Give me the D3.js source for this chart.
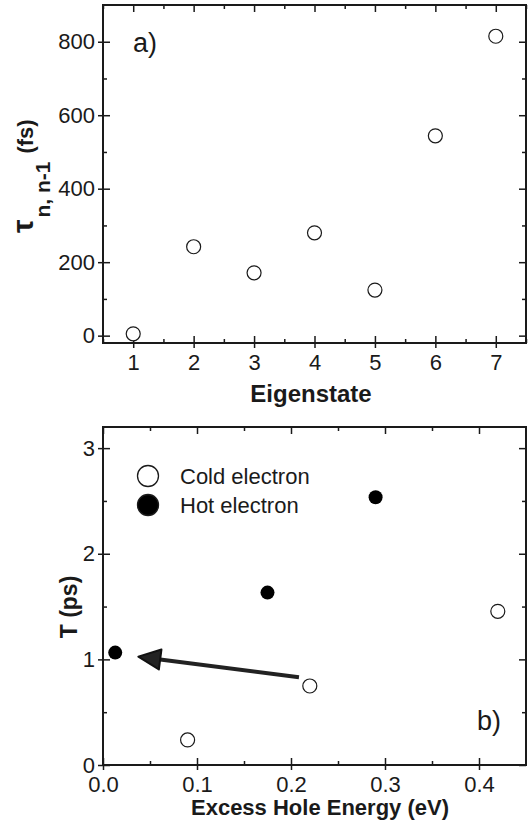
<!DOCTYPE html>
<html>
<head>
<meta charset="utf-8">
<script src="https://cdn.jsdelivr.net/npm/d3@7"></script>
<style>
  body { margin: 0; background: #fff; }
  text { font-family: "Liberation Sans", Arial, sans-serif; fill: #1a1a1a; }
</style>
</head>
<body>
<div id="chart"></div>
<script>
// - data, panel a)
const eigenstates = [1, 2, 3, 4, 5, 6, 7]
const tauValues = [5, 242, 171, 280, 124, 544, 815]
const xTicksA = [1, 2, 3, 4, 5, 6, 7]
const xMinorA = [0.5, 1.5, 2.5, 3.5, 4.5, 5.5, 6.5, 7.5]
const yTicksA = [0, 200, 400, 600, 800]
const yMinorA = [100, 300, 500, 700]

// - data, panel b)
const coldEnergy = [0.09, 0.22, 0.42]
const coldT = [0.237, 0.748, 1.455]
const hotEnergy = [0.013, 0.175, 0.29]
const hotT = [1.064, 1.632, 2.535]
const arrowFrom = [0.2085, 0.83]
const arrowTo = [0.0376, 1.026]
const xTicksB = [0, 0.1, 0.2, 0.3, 0.4]
const xMinorB = [0.05, 0.15, 0.25, 0.35]
const yTicksB = [0, 1, 2, 3]
const yMinorB = [0.5, 1.5, 2.5]
const legendLabels = ['Cold electron', 'Hot electron']

const ink = '#1a1a1a'
const dms = { width: 528, height: 825 }

const svg = d3.select('#chart')
  .append('svg')
  .attr('width', dms.width)
  .attr('height', dms.height)

const left = 103
const right = 526

function drawFrame(x, y, xTicks, xMinor, yTicks, yMinor, xFormat, yFormat) {
  const [x0, x1] = x.range()
  const [y0, y1] = y.range() // y0 bottom, y1 top

  // inside ticks on all four sides
  const inner = svg.append('g')
  const addAxis = (gen, tr) => {
    const g = inner.append('g').attr('transform', tr).call(gen)
    g.select('.domain').remove()
    g.selectAll('text').remove()
    g.selectAll('line').attr('stroke', ink).attr('stroke-width', 1.5)
  }
  addAxis(d3.axisBottom(x).tickValues(xMinor).tickSize(-4), `translate(0,${y0})`)
  addAxis(d3.axisTop(x).tickValues(xMinor).tickSize(-4), `translate(0,${y1})`)
  addAxis(d3.axisLeft(y).tickValues(yMinor).tickSize(-4), `translate(${x0},0)`)
  addAxis(d3.axisRight(y).tickValues(yMinor).tickSize(-4), `translate(${x1},0)`)
  addAxis(d3.axisBottom(x).tickValues(xTicks).tickSize(-7), `translate(0,${y0})`)
  addAxis(d3.axisTop(x).tickValues(xTicks).tickSize(-7), `translate(0,${y1})`)
  addAxis(d3.axisLeft(y).tickValues(yTicks).tickSize(-7), `translate(${x0},0)`)
  addAxis(d3.axisRight(y).tickValues(yTicks).tickSize(-7), `translate(${x1},0)`)

  // outside major ticks with labels
  const xAxis = svg.append('g')
    .attr('transform', `translate(0,${y0})`)
    .call(d3.axisBottom(x).tickValues(xTicks).tickSize(5).tickPadding(6).tickFormat(xFormat))
  const yAxis = svg.append('g')
    .attr('transform', `translate(${x0},0)`)
    .call(d3.axisLeft(y).tickValues(yTicks).tickSize(5).tickPadding(3).tickFormat(yFormat))
  for (const a of [xAxis, yAxis]) {
    a.select('.domain').remove()
    a.selectAll('line').attr('stroke', ink).attr('stroke-width', 1.5)
    a.selectAll('text')
      .style('font-family', '"Liberation Sans", Arial, sans-serif')
      .style('font-size', '22px')
      .attr('fill', ink)
  }

  svg.append('rect')
    .attr('x', x0).attr('y', y1)
    .attr('width', x1 - x0).attr('height', y0 - y1)
    .attr('fill', 'none')
    .attr('stroke', ink)
    .attr('stroke-width', 2)
}

// ---------- panel a)
const xA = d3.scaleLinear().domain([0.5, 7.5]).range([left, right])
const yA = d3.scaleLinear().domain([-20, 900]).range([343, 5])

drawFrame(xA, yA, xTicksA, xMinorA, yTicksA, yMinorA, d3.format('d'), d3.format('d'))

svg.append('g')
  .selectAll('circle')
  .data(eigenstates)
  .join('circle')
  .attr('cx', (d) => xA(d))
  .attr('cy', (d, i) => yA(tauValues[i]))
  .attr('r', 7)
  .attr('fill', '#fff')
  .attr('stroke', ink)
  .attr('stroke-width', 1.2)

svg.append('text')
  .attr('x', 133).attr('y', 52)
  .style('font-size', '27px')
  .text('a)')

svg.append('text')
  .attr('x', 311).attr('y', 402)
  .attr('text-anchor', 'middle')
  .style('font-size', '24px')
  .style('font-weight', 'bold')
  .text('Eigenstate')

const tauLabel = svg.append('text')
  .attr('transform', 'translate(33,233) rotate(-90)')
  .style('font-weight', 'bold')
tauLabel.append('tspan').style('font-size', '30px').text('τ')
tauLabel.append('tspan').attr('dx', 2).attr('dy', 17).style('font-size', '21px').text('n, n-1')
tauLabel.append('tspan').attr('dx', 8).attr('dy', -17).style('font-size', '22px').text('(fs)')

// ---------- panel b)
const xB = d3.scaleLinear().domain([0, 0.45]).range([left, right])
const yB = d3.scaleLinear().domain([0, 3.2]).range([765, 427])

drawFrame(xB, yB, xTicksB, xMinorB, yTicksB, yMinorB, d3.format('.1f'), d3.format('d'))

// arrow
const tip = [xB(arrowTo[0]), yB(arrowTo[1])]
const tail = [xB(arrowFrom[0]), yB(arrowFrom[1])]
const ang = Math.atan2(tail[1] - tip[1], tail[0] - tip[0])
const headLen = 22
const headHalf = 10
const base = [tip[0] + headLen * Math.cos(ang), tip[1] + headLen * Math.sin(ang)]
svg.append('line')
  .attr('x1', tail[0]).attr('y1', tail[1])
  .attr('x2', base[0]).attr('y2', base[1])
  .attr('stroke', '#222')
  .attr('stroke-width', 4)
svg.append('path')
  .attr('d', d3.line()([
    tip,
    [base[0] - headHalf * Math.sin(ang), base[1] + headHalf * Math.cos(ang)],
    [base[0] + headHalf * Math.sin(ang), base[1] - headHalf * Math.cos(ang)],
  ]) + 'Z')
  .attr('fill', '#222')
  .attr('stroke', '#111')
  .attr('stroke-width', 2)
  .attr('stroke-linejoin', 'round')

svg.append('g')
  .selectAll('circle')
  .data(coldEnergy)
  .join('circle')
  .attr('cx', (d) => xB(d))
  .attr('cy', (d, i) => yB(coldT[i]))
  .attr('r', 7)
  .attr('fill', '#fff')
  .attr('stroke', ink)
  .attr('stroke-width', 1.2)

svg.append('g')
  .selectAll('circle')
  .data(hotEnergy)
  .join('circle')
  .attr('cx', (d) => xB(d))
  .attr('cy', (d, i) => yB(hotT[i]))
  .attr('r', 7)
  .attr('fill', '#000')

// legend
const legend = svg.append('g').attr('transform', 'translate(148,476)')
legend.selectAll('circle')
  .data(legendLabels)
  .join('circle')
  .attr('cx', 0)
  .attr('cy', (d, i) => i * 29)
  .attr('r', 10.5)
  .attr('fill', (d, i) => i === 0 ? '#fff' : '#000')
  .attr('stroke', ink)
  .attr('stroke-width', 1.3)
legend.selectAll('text')
  .data(legendLabels)
  .join('text')
  .attr('x', 32)
  .attr('y', (d, i) => i * 29 + 7.5)
  .style('font-size', '22px')
  .text((d) => d)

svg.append('text')
  .attr('x', 477).attr('y', 730)
  .style('font-size', '27px')
  .text('b)')

svg.append('text')
  .attr('x', 320).attr('y', 815)
  .attr('text-anchor', 'middle')
  .style('font-size', '22px')
  .style('font-weight', 'bold')
  .text('Excess Hole Energy (eV)')

svg.append('text')
  .attr('transform', 'translate(77,607) rotate(-90)')
  .attr('text-anchor', 'middle')
  .style('font-size', '23px')
  .style('font-weight', 'bold')
  .text('T (ps)')
</script>
</body>
</html>
